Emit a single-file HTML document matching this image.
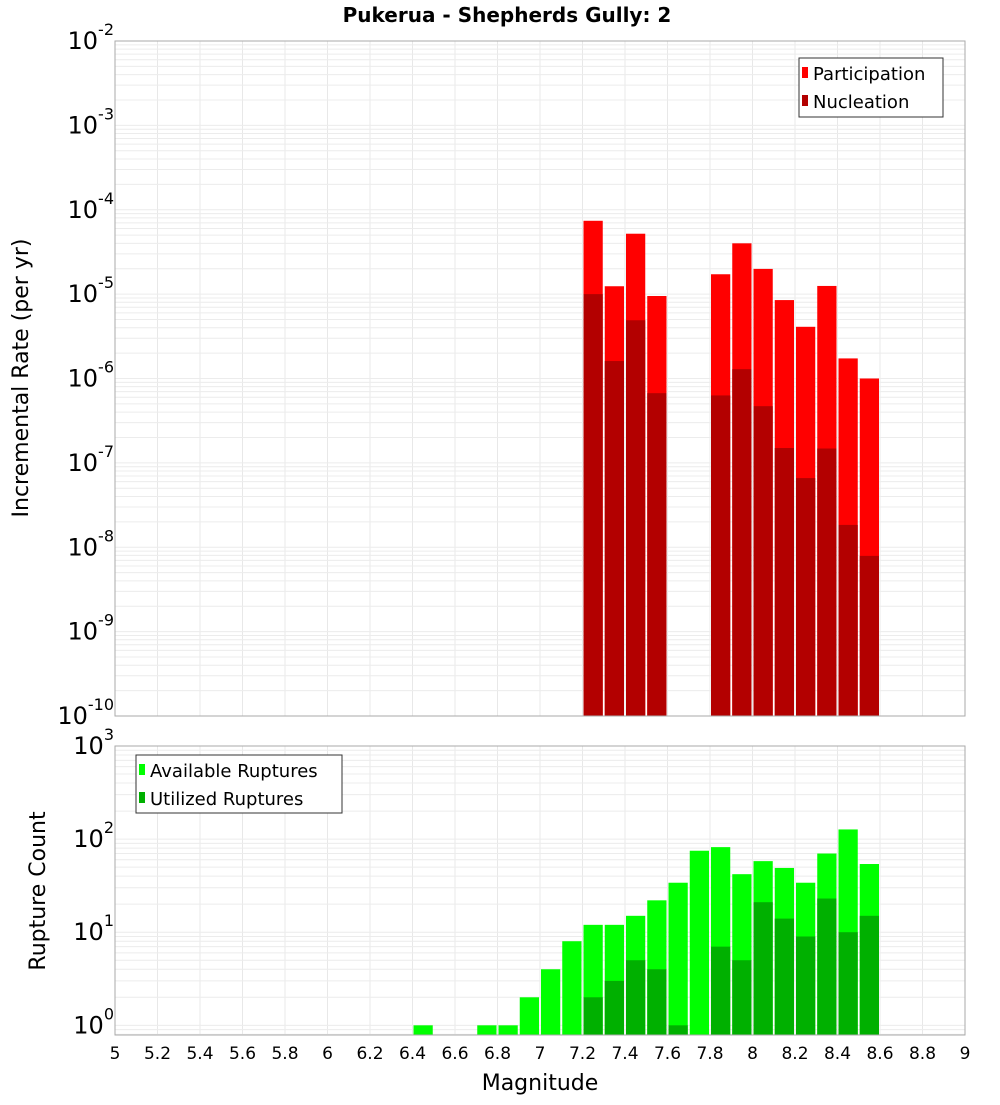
<!DOCTYPE html>
<html><head><meta charset="utf-8"><style>
body{margin:0;background:#fff;}
svg text{font-family:"DejaVu Sans","Liberation Sans",sans-serif;}
</style></head><body>
<svg id="c" width="1000" height="1100" viewBox="0 0 1000 1100" xmlns="http://www.w3.org/2000/svg">
<rect width="1000" height="1100" fill="#fff"/>
<text x="507" y="22" text-anchor="middle" font-size="20" font-weight="bold">Pukerua - Shepherds Gully: 2</text>
<g id="gtop"></g><g id="gbot"></g>
<text transform="translate(28,378) rotate(-90)" text-anchor="middle" font-size="22">Incremental Rate (per yr)</text>
<text transform="translate(45,891) rotate(-90)" text-anchor="middle" font-size="22">Rupture Count</text>
<text x="540" y="1090" text-anchor="middle" font-size="22">Magnitude</text>
</svg>
<script>
const mags=[6.45,6.75,6.85,6.95,7.05,7.15,7.25,7.35,7.45,7.55,7.65,7.75,7.85,7.95,8.05,8.15,8.25,8.35,8.45,8.55];
const available=[1,1,1,2,4,8,12,12,15,22,34,75,82,42,58,49,34,70,127,54];
const utilized=[0,0,0,0,0,0,2,3,5,4,1,0,7,5,21,14,9,23,10,15];
const rateMags=[7.25,7.35,7.45,7.55,7.85,7.95,8.05,8.15,8.25,8.35,8.45,8.55];
const participation=[7.4e-5,1.24e-5,5.2e-5,9.5e-6,1.72e-5,4.0e-5,1.99e-5,8.5e-6,4.1e-6,1.25e-5,1.73e-6,1.0e-6];
const nucleation=[1.0e-5,1.61e-6,4.9e-6,6.7e-7,6.3e-7,1.29e-6,4.7e-7,1.5e-7,6.6e-8,1.48e-7,1.84e-8,7.9e-9];
const xTicks=["5","5.2","5.4","5.6","5.8","6","6.2","6.4","6.6","6.8","7","7.2","7.4","7.6","7.8","8","8.2","8.4","8.6","8.8","9"];
const NS="http://www.w3.org/2000/svg";
const L=115,R=965;
const X=m=>L+(m-5)*(R-L)/4;
const PT={top:41,bot:716,lmin:-10,lmax:-2};
const PB={top:746,bot:1035,lmin:Math.log10(0.787),lmax:3};
const yT=v=>PT.bot-(Math.log10(v)-PT.lmin)/(PT.lmax-PT.lmin)*(PT.bot-PT.top);
const yB=v=>PB.bot-(Math.log10(v)-PB.lmin)/(PB.lmax-PB.lmin)*(PB.bot-PB.top);
function el(p,tag,a,txt){const e=document.createElementNS(NS,tag);for(const k in a)e.setAttribute(k,a[k]);if(txt!==undefined)e.textContent=txt;p.appendChild(e);return e;}
function panel(g,P,yf,dmin,dmax){
  const grid=el(g,'g',{});
  
  
  for(let i=0;i<xTicks.length;i++){const x=X(5+i*0.2);el(grid,'line',{x1:x,x2:x,y1:P.top,y2:P.bot,stroke:'#e8e8e8','stroke-width':1});}
  for(let d=dmin;d<=dmax;d++)for(let k=1;k<10;k++){const v=k*Math.pow(10,d);const y=yf(v);if(y<P.top-0.5||y>P.bot+0.5)continue;el(grid,'line',{x1:L,x2:R,y1:y,y2:y,stroke:'#ececec','stroke-width':1});}
}
function axisLabels(g,yf,dmin,dmax,name){
  for(let d=dmin;d<=dmax;d++){const y=yf(Math.pow(10,d));
    const t=el(g,'text',{x:114,y:y+8,'text-anchor':'end','font-size':24});
    
    
    el(t,'tspan',{},'10');el(t,'tspan',{'font-size':16,dy:-14},String(d));}
}
function bar(g,m,v,yf,P,fill,name){
  const x0=X(m-0.05)+1,x1=X(m+0.05)-1;const y=yf(v);
  const r=el(g,'rect',{x:x0,y:y,width:x1-x0,height:P.bot-y,fill:fill});
  
  
}
const gTop=document.getElementById('gtop'),gBot=document.getElementById('gbot');
panel(gTop,PT,yT,-10,-3);
panel(gBot,PB,yB,-1,2);
rateMags.forEach((m,i)=>bar(gTop,m,participation[i],yT,PT,'#ff0000','participation-bar'));
rateMags.forEach((m,i)=>bar(gTop,m,nucleation[i],yT,PT,'#b30000','nucleation-bar'));
mags.forEach((m,i)=>{if(available[i]>0)bar(gBot,m,available[i],yB,PB,'#00ff00','available-bar');});
mags.forEach((m,i)=>{if(utilized[i]>0)bar(gBot,m,utilized[i],yB,PB,'#00b000','utilized-bar');});
[PT,PB].forEach((P,i)=>{const f=el(i?gBot:gTop,'rect',{x:L,y:P.top,width:R-L,height:P.bot-P.top,fill:'none',stroke:'#aaa','stroke-width':1});
  
  });
axisLabels(gTop,yT,-10,-2,'top-y');
axisLabels(gBot,yB,0,3,'bottom-y');
xTicks.forEach((t,i)=>{const e=el(gBot,'text',{x:X(5+i*0.2),y:1059,'text-anchor':'middle','font-size':17},t);
  
  });
function legend(g,x,y,w,h,items,name){
  const lg=el(g,'g',{});
  
  
  el(lg,'rect',{x:x,y:y,width:w,height:h,fill:'#fff',stroke:'#333','stroke-width':1});
  items.forEach((it,i)=>{const yy=y+15+i*28;
    el(lg,'rect',{x:x+3,y:yy-6,width:6,height:11,fill:it[1]});
    const t=el(lg,'text',{x:x+14,y:yy+7,'font-size':18},it[0]);
    
    });
}
legend(gTop,799,58,144,59,[['Participation','#ff0000'],['Nucleation','#b30000']],'top-legend');
legend(gBot,136,755,206,58,[['Available Ruptures','#00ff00'],['Utilized Ruptures','#00b000']],'bottom-legend');
</script>
</body></html>
